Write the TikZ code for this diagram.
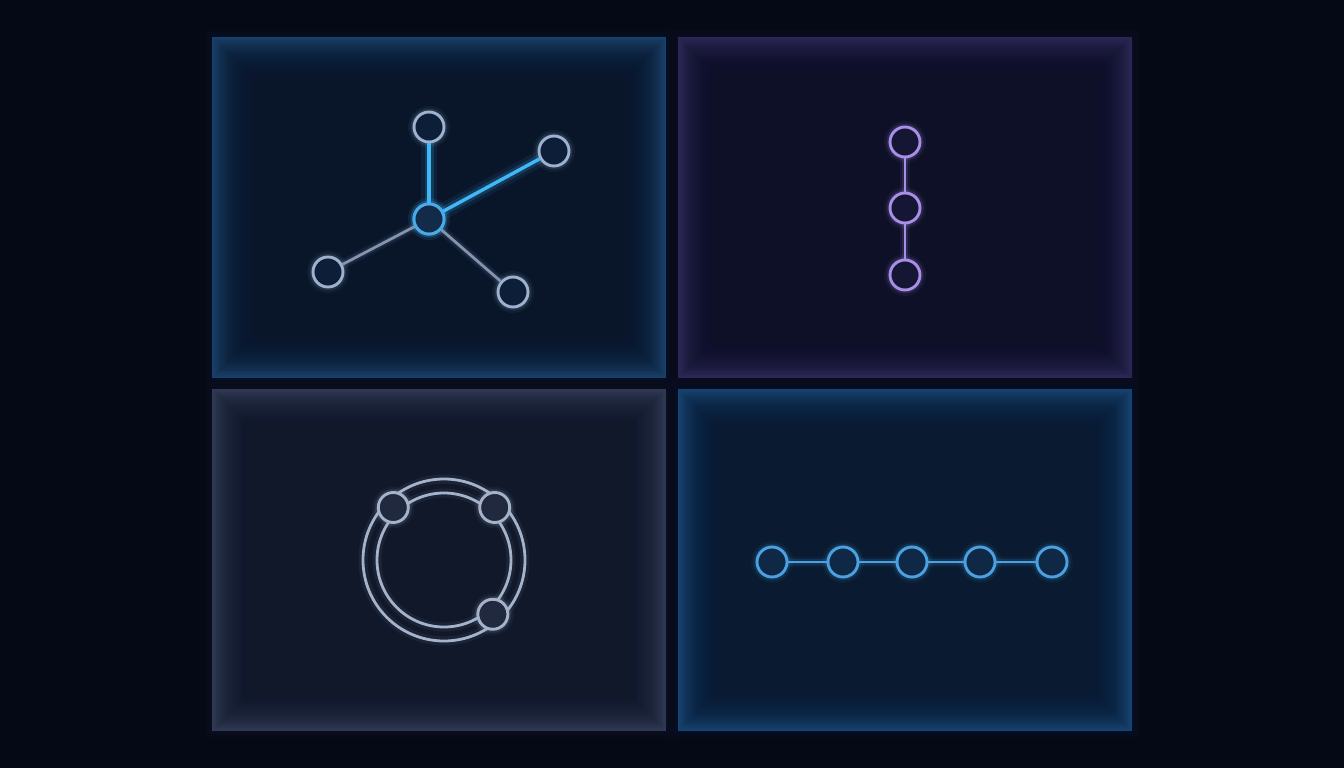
\documentclass[tikz,border=0pt]{standalone}
\usetikzlibrary{calc}
\definecolor{bg}{HTML}{050916}
\definecolor{tlEdge}{HTML}{1C456F}
\definecolor{tlIn}{HTML}{09162A}
\definecolor{trEdge}{HTML}{2F2A5A}
\definecolor{trIn}{HTML}{0D1027}
\definecolor{blEdge}{HTML}{333D57}
\definecolor{blIn}{HTML}{10182A}
\definecolor{brEdge}{HTML}{194878}
\definecolor{brIn}{HTML}{091A31}
\definecolor{greyNode}{HTML}{9DB2CE}
\definecolor{greyLine}{HTML}{8495B0}
\definecolor{cyanLine}{HTML}{40B8F8}
\definecolor{cyanNode}{HTML}{4AAAEA}
\definecolor{purpNode}{HTML}{A88EE6}
\definecolor{ringCol}{HTML}{A4B2CA}
\definecolor{blueNode}{HTML}{4AA2E2}
\newcommand{\glowpanel}[6]{%
  \foreach \k in {1,...,5}{\fill[#5,opacity=0.03] (#1-\k*1.5,#2-\k*1.5) rectangle (#3+\k*1.5,#4+\k*1.5);}
  \fill[#5] (#1,#2) rectangle (#3,#4);
  \foreach \k in {0,...,44}{\fill[#6,opacity=0.075] (#1+\k*1.4,#2+\k*1.4) rectangle (#3-\k*1.4,#4-\k*1.4);}
}
\tikzset{
  gnode/.style n args={2}{circle, minimum size=30pt, inner sep=0pt, line width=2.9pt, draw=#1, fill=#2,
    preaction={draw=#1, line width=12pt, draw opacity=0.06},
    preaction={draw=#1, line width=7pt, draw opacity=0.13}},
  gline/.style={draw=#1, line width=2.7pt,
    preaction={draw=#1, line width=10pt, draw opacity=0.07},
    preaction={draw=#1, line width=6pt, draw opacity=0.13}},
  bline/.style={draw=#1, line width=3.4pt,
    preaction={draw=#1, line width=16pt, draw opacity=0.08},
    preaction={draw=#1, line width=9pt, draw opacity=0.16}},
}
\begin{document}
\begin{tikzpicture}[x=1pt,y=-1pt]
\fill[bg] (0,0) rectangle (1344,768);
\useasboundingbox (0,0) rectangle (1344,768);
% panels
\glowpanel{212}{37}{666}{378}{tlEdge}{tlIn}
\glowpanel{678}{37}{1132}{378}{trEdge}{trIn}
\glowpanel{212}{389}{666}{731}{blEdge}{blIn}
\glowpanel{678}{389}{1132}{731}{brEdge}{brIn}

% top-left: star
\node[gnode={greyNode}{tlIn!80!tlEdge}] (s1) at (429,127) {};
\node[gnode={greyNode}{tlIn!80!tlEdge}] (s2) at (554,151) {};
\node[gnode={greyNode}{tlIn!80!tlEdge}] (s3) at (328,272) {};
\node[gnode={greyNode}{tlIn!80!tlEdge}] (s4) at (513,292) {};
\node[gnode={cyanNode}{tlIn!55!tlEdge}] (sc) at (429,219) {};
\path[gline=greyLine] (sc) -- (s3);
\path[gline=greyLine] (sc) -- (s4);
\path[bline=cyanLine] (sc) -- (s1);
\path[bline=cyanLine] (sc) -- (s2);
\node[gnode={cyanNode}{tlIn!55!tlEdge}] at (sc) {};

% top-right: vertical chain
\node[gnode={purpNode}{trIn!75!trEdge}] (v1) at (905,142) {};
\node[gnode={purpNode}{trIn!75!trEdge}] (v2) at (905,208) {};
\node[gnode={purpNode}{trIn!75!trEdge}] (v3) at (905,275) {};
\path[gline=purpNode] (v1) -- (v2);
\path[gline=purpNode] (v2) -- (v3);

% bottom-left: ring
\coordinate (rc) at (444,560);
\draw[ringCol, line width=2.8pt, preaction={draw=ringCol, line width=9pt, draw opacity=0.08}] (rc) circle (81pt);
\draw[ringCol, line width=2.8pt, preaction={draw=ringCol, line width=9pt, draw opacity=0.08}] (rc) circle (67pt);
\node[gnode={ringCol}{blIn!55!blEdge}] (r1) at ($(rc)+(134:73pt)$) {};
\node[gnode={ringCol}{blIn!55!blEdge}] (r2) at ($(rc)+(46:73pt)$) {};
\node[gnode={ringCol}{blIn!55!blEdge}] (r3) at ($(rc)+(-48:73pt)$) {};

% bottom-right: horizontal chain
\node[gnode={blueNode}{brIn!70!brEdge}] (h1) at (772,562) {};
\node[gnode={blueNode}{brIn!70!brEdge}] (h2) at (843,562) {};
\node[gnode={blueNode}{brIn!70!brEdge}] (h3) at (912,562) {};
\node[gnode={blueNode}{brIn!70!brEdge}] (h4) at (980,562) {};
\node[gnode={blueNode}{brIn!70!brEdge}] (h5) at (1052,562) {};
\path[gline=blueNode] (h1) -- (h2);
\path[gline=blueNode] (h2) -- (h3);
\path[gline=blueNode] (h3) -- (h4);
\path[gline=blueNode] (h4) -- (h5);
\end{tikzpicture}
\end{document}
